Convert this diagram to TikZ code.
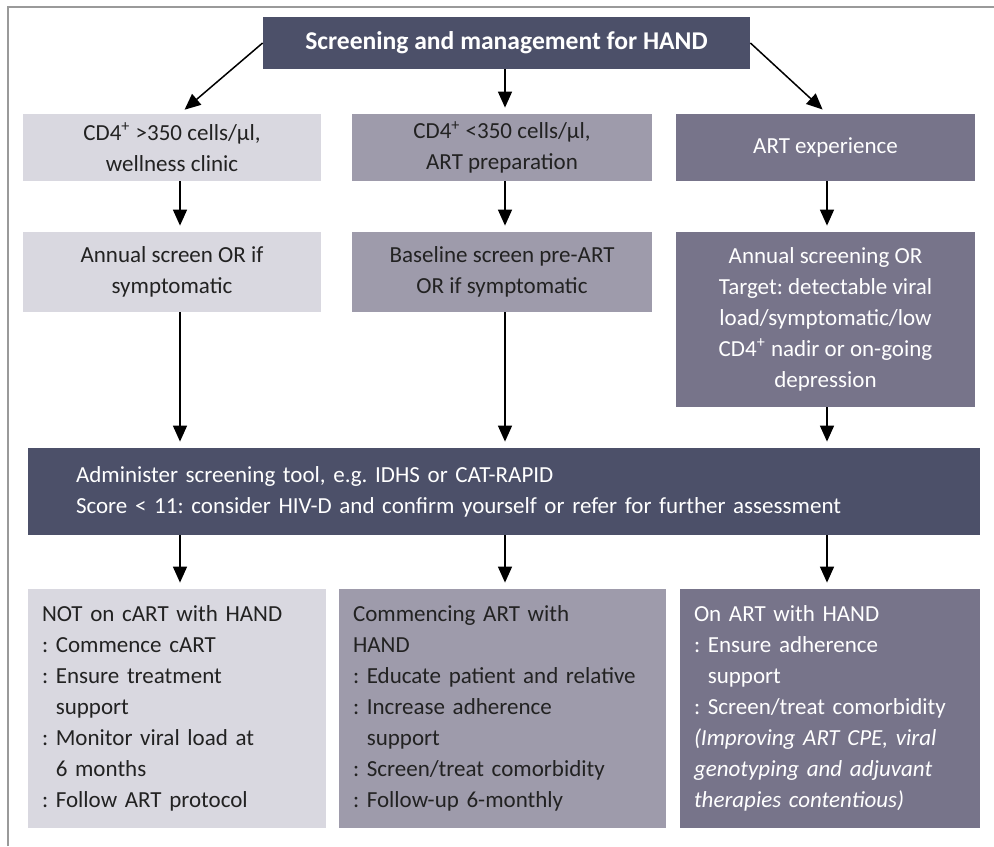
\documentclass[tikz,border=0pt]{standalone}
\usepackage{fontspec}
\setmainfont{Carlito}
\usetikzlibrary{arrows.meta}
\frenchspacing
\definecolor{boxlight}{HTML}{D9D8E0}
\definecolor{boxmid}{HTML}{9E9BAB}
\definecolor{boxgrey}{HTML}{77748A}
\definecolor{boxdark}{HTML}{4C5069}
\definecolor{textdark}{HTML}{222222}
\definecolor{framegrey}{HTML}{9A9A9A}
\newcommand{\ind}{\hspace*{0.6em}}
\newcommand{\cdfour}{CD4\textsuperscript{+}}

\begin{document}
\begin{tikzpicture}[x=0.5pt,y=-0.5pt,
  >={Triangle[width=7pt,length=8pt]},
  cell/.style={inner sep=0pt,align=center,font=\fontsize{11.5}{15.5}\selectfont},
  listcell/.style={cell,align=left,inner xsep=7pt},
  light/.style={fill=boxlight,text=textdark},
  mid/.style={fill=boxmid,text=textdark},
  grey/.style={fill=boxgrey,text=white},
  dark/.style={fill=boxdark,text=white},
  arr/.style={->,line width=0.75pt,shorten >=3pt}]
\useasboundingbox (0,0) rectangle (994,846);
\draw[framegrey,line width=1pt] (8,846) -- (8,7) -- (994,7);

% header
\node[cell,dark,minimum width=243.5pt,minimum height=26pt,font=\fontsize{12.8}{15.5}\selectfont\bfseries] (top) at (506.5,43) {Screening and management for HAND};

% patient groups
\node[cell,light,minimum width=149pt,minimum height=33.5pt] (r2a) at (172,147.5) {\cdfour\ {>}350 cells/µl,\\wellness clinic};
\node[cell,mid,minimum width=150pt,minimum height=33.5pt] (r2b) at (502,147.5) {\cdfour\ {<}350 cells/µl,\\ART preparation};
\node[cell,grey,minimum width=149.5pt,minimum height=33.5pt] (r2c) at (825.5,147.5) {ART experience};

% screening schedule
\node[cell,light,minimum width=149pt,minimum height=40pt] (r3a) at (172,272) {Annual screen OR if\\symptomatic};
\node[cell,mid,minimum width=150pt,minimum height=40pt] (r3b) at (502,272) {Baseline screen pre-ART\\OR if symptomatic};
\node[cell,grey,minimum width=149.5pt,minimum height=87.5pt] (r3c) at (825.5,319.5) {Annual screening OR\\Target: detectable viral\\load/symptomatic/low\\\cdfour\ nadir or on-going\\depression};

% screening tool
\node[listcell,dark,inner xsep=24pt,text width=428pt,minimum height=43.5pt] (adm) at (504,491.5) {Administer screening tool, e.g. IDHS or CAT-RAPID\\Score {<} 11: consider HIV-D and confirm yourself or refer for further assessment};

% management
\node[listcell,light,text width=135pt,minimum height=119.5pt] (r4a) at (177,708.5) {NOT on cART with HAND\\: Commence cART\\: Ensure treatment\\\ind support\\: Monitor viral load at\\\ind 6 months\\: Follow ART protocol};
\node[listcell,mid,text width=149.5pt,minimum height=119.5pt] (r4b) at (502.5,708.5) {Commencing ART with\\HAND\\: Educate patient and relative\\: Increase adherence\\\ind support\\: Screen/treat comorbidity\\: Follow-up 6-monthly};
\node[listcell,grey,text width=136pt,minimum height=119.5pt] (r4c) at (830,708.5) {On ART with HAND\\: Ensure adherence\\\ind support\\: Screen/treat comorbidity\\\textit{(Improving ART CPE, viral}\\\textit{genotyping and adjuvant}\\\textit{therapies contentious)}};

\coordinate (c1) at (180,0);
\coordinate (c2) at (505,0);
\coordinate (c3) at (827,0);

\draw[arr] (top.west) -- (r2a.north -| c1);
\draw[arr] (top.south -| c2) -- (r2b.north -| c2);
\draw[arr] (top.east) -- (r2c.north -| c3);
\foreach \a/\b/\c in {r2a/r3a/c1,r2b/r3b/c2,r2c/r3c/c3,r3a/adm/c1,r3b/adm/c2,r3c/adm/c3,adm/r4a/c1,adm/r4b/c2,adm/r4c/c3}
  \draw[arr] (\a.south -| \c) -- (\b.north -| \c);
\end{tikzpicture}
\end{document}
